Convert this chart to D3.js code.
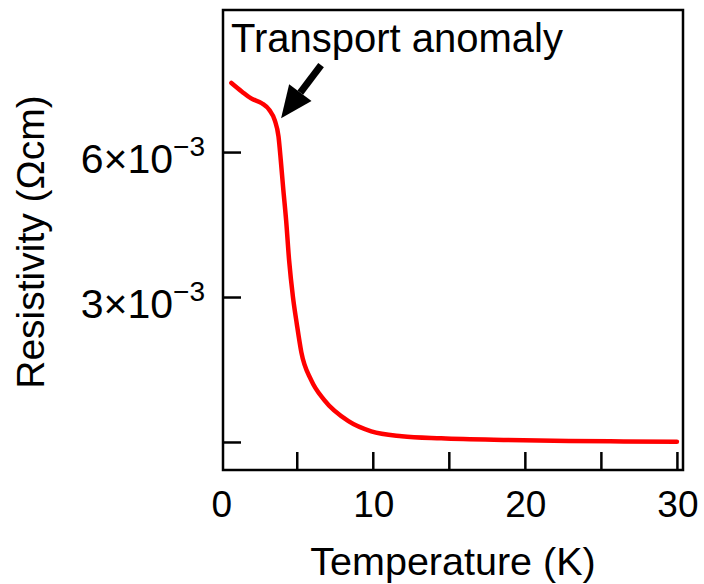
<!DOCTYPE html>
<html><head><meta charset="utf-8">
<script src="https://cdn.jsdelivr.net/npm/d3@7"></script>
<style>
body{margin:0;background:#fff;}
text{font-family:"Liberation Sans",Arial,Helvetica,sans-serif;fill:#000;}
</style></head>
<body><svg id="c" width="704" height="584"></svg>
<script>
// Data (temperature in K, resistivity in units of 1e-3 Ohm cm)
const temperature = [0.7, 1.4, 2.0, 2.7, 3.2, 3.55, 3.8, 3.95, 4.1, 4.3, 4.5, 4.75, 5.0, 5.3, 5.95, 6.8, 8.4, 9.9, 11.9, 14.5, 18.6, 22.9, 26.5, 30.0];
const resistivity = [7.43, 7.25, 7.11, 7.01, 6.87, 6.66, 6.32, 5.83, 5.28, 4.59, 3.75, 3.0, 2.45, 1.86, 1.28, 0.87, 0.43, 0.22, 0.12, 0.076, 0.041, 0.02, 0.012, 0.006];
const xTicks = [5, 10, 15, 20, 25, 30];
const xTickLabels = [0, 10, 20, 30];
const yTicks = [0, 3, 6];
const yTickLabels = [{v: 3, base: "3×10", exp: "−3"}, {v: 6, base: "6×10", exp: "−3"}];
const annotationText = "Transport anomaly";
const arrowTail = {t: 6.6, r: 7.8};
const arrowTip = {t: 3.97, r: 6.70};

const svg = d3.select("#c");
const L = 223, R = 683, T = 10, B = 470;
const x = d3.scaleLinear().domain([0.15, 30.4]).range([L, R]);
const y = d3.scaleLinear().domain([-0.58, 8.94]).range([B, T]);

// frame
svg.append("rect").attr("x", L).attr("y", T).attr("width", R - L).attr("height", B - T)
  .attr("fill", "none").attr("stroke", "#000").attr("stroke-width", 2.5);

// x ticks (inward)
const xAxis = d3.axisTop(x).tickValues(xTicks).tickSize(18).tickFormat("");
svg.append("g").attr("transform", `translate(0,${B})`).call(xAxis)
  .call(g => { g.select(".domain").remove(); g.selectAll("line").attr("stroke", "#000").attr("stroke-width", 2.5); });
svg.append("g").selectAll("text").data(xTickLabels).join("text")
  .attr("x", d => x(d) + 1).attr("y", 517).attr("text-anchor", "middle")
  .attr("font-size", 37).text(d => d);

// y ticks (inward)
const yAxis = d3.axisRight(y).tickValues(yTicks).tickSize(18).tickFormat("");
svg.append("g").attr("transform", `translate(${L},0)`).call(yAxis)
  .call(g => { g.select(".domain").remove(); g.selectAll("line").attr("stroke", "#000").attr("stroke-width", 2.5); });
const yl = svg.append("g").selectAll("text").data(yTickLabels).join("text")
  .attr("x", 205).attr("y", d => y(d.v) + 21).attr("text-anchor", "end").attr("font-size", 41);
yl.append("tspan").text(d => d.base);
yl.append("tspan").attr("dy", -17).attr("font-size", 28).text(d => d.exp);

// axis titles
svg.append("text").attr("x", 453).attr("y", 575).attr("text-anchor", "middle")
  .attr("font-size", 39.5).text("Temperature (K)");
svg.append("text").attr("transform", "translate(44,242) rotate(-90)").attr("text-anchor", "middle")
  .attr("font-size", 39).text("Resistivity (Ωcm)");

// curve
const line = d3.line().x((d, i) => x(temperature[i])).y(d => y(d)).curve(d3.curveMonotoneX);
svg.append("path").datum(resistivity).attr("d", line)
  .attr("fill", "none").attr("stroke", "#ff0000").attr("stroke-width", 4.5)
  .attr("stroke-linecap", "round").attr("stroke-linejoin", "round");

// annotation
svg.append("text").attr("x", 231).attr("y", 52).attr("font-size", 40).text(annotationText);
const x1 = x(arrowTail.t), y1 = y(arrowTail.r), x2 = x(arrowTip.t), y2 = y(arrowTip.r);
const ang = Math.atan2(y2 - y1, x2 - x1);
const headLen = 32, headW = 14;
const bx = x2 - headLen * Math.cos(ang), by = y2 - headLen * Math.sin(ang);
svg.append("line").attr("x1", x1).attr("y1", y1).attr("x2", bx).attr("y2", by)
  .attr("stroke", "#000").attr("stroke-width", 7);
const px = -Math.sin(ang), py = Math.cos(ang);
svg.append("path").attr("d", `M${x2},${y2} L${bx + px * headW},${by + py * headW} L${bx - px * headW},${by - py * headW} Z`)
  .attr("fill", "#000");
</script></body></html>
